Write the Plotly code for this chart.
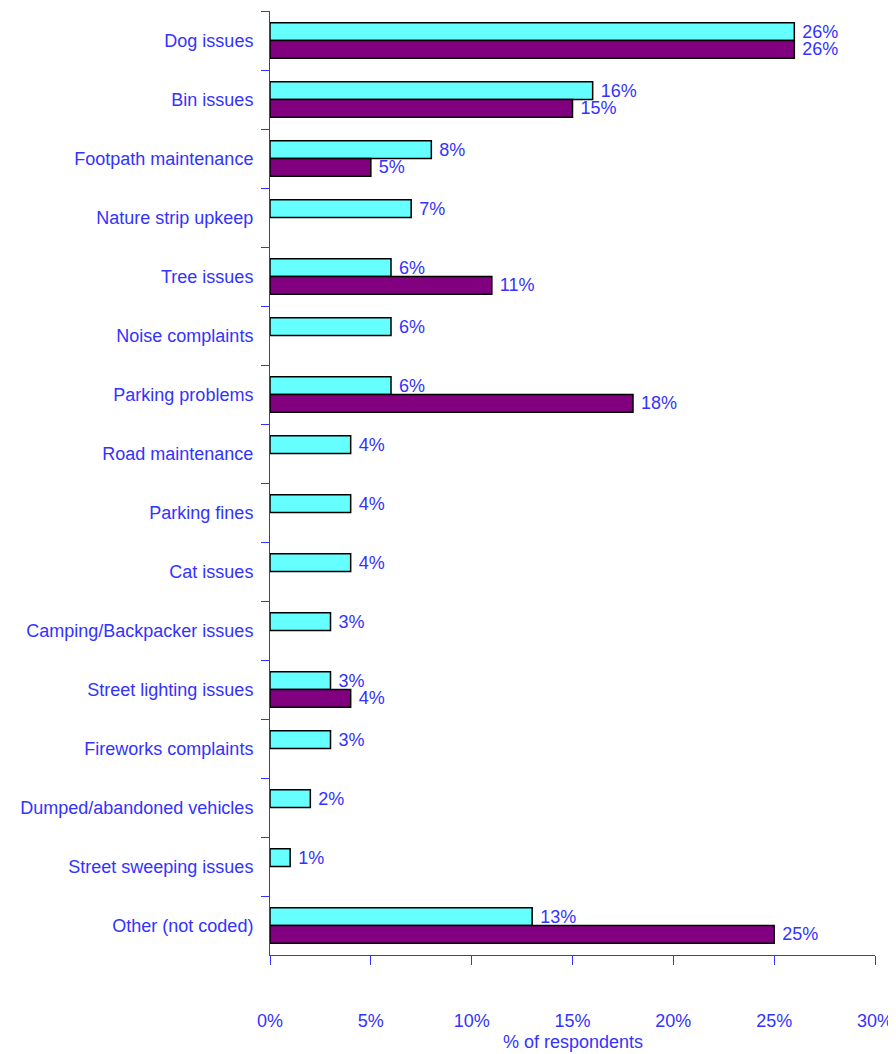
import plotly.graph_objects as go

categories = ["Dog issues", "Bin issues", "Footpath maintenance", "Nature strip upkeep",
              "Tree issues", "Noise complaints", "Parking problems", "Road maintenance",
              "Parking fines", "Cat issues", "Camping/Backpacker issues",
              "Street lighting issues", "Fireworks complaints", "Dumped/abandoned vehicles",
              "Street sweeping issues", "Other (not coded)"]
series_a = [26, 16, 8, 7, 6, 6, 6, 4, 4, 4, 3, 3, 3, 2, 1, 13]
series_b = [26, 15, 5, None, 11, None, 18, None, None, None, None, 4, None, None, None, 25]
x_ticks = [0, 5, 10, 15, 20, 25, 30]

FONT = "Liberation Sans Narrow, Arial Narrow, Liberation Sans, Arial, sans-serif"
BLUE = "#3333FF"

def labels(vals):
    return ["" if v is None else f" {v}%" for v in vals]

fig = go.Figure()
fig.add_trace(go.Bar(y=categories, x=series_a, orientation="h", name="Series A",
                     marker=dict(color="#66FFFF", line=dict(color="black", width=1.5)),
                     text=labels(series_a), textposition="outside", cliponaxis=False,
                     constraintext="none",
                     textfont=dict(family=FONT, size=18, color=BLUE)))
fig.add_trace(go.Bar(y=categories, x=series_b, orientation="h", name="Series B",
                     marker=dict(color="#800080", line=dict(color="black", width=1.5)),
                     text=labels(series_b), textposition="outside", cliponaxis=False,
                     constraintext="none",
                     textfont=dict(family=FONT, size=18, color=BLUE)))

fig.update_layout(
    width=888, height=1046,
    barmode="group", bargap=0.4, bargroupgap=0,
    showlegend=False,
    plot_bgcolor="white", paper_bgcolor="white",
    margin=dict(l=262, r=21, t=3, b=99),
    font=dict(family=FONT, size=18, color=BLUE),
    xaxis=dict(range=[0, 30], tickvals=x_ticks, ticktext=[f"{v}%" for v in x_ticks],
               ticks="outside", ticklen=9, tickcolor=BLUE, showline=True, linecolor=BLUE,
               linewidth=1, showgrid=False, zeroline=False, ticklabelstandoff=40,
               automargin=False),
    yaxis=dict(autorange="reversed", ticks="outside", tickson="boundaries", ticklen=8,
               tickcolor=BLUE, showline=True, linecolor=BLUE, linewidth=1,
               showgrid=False, ticklabelstandoff=12, automargin=False),
    annotations=[dict(text="% of respondents", xref="paper", yref="paper", x=0.5, y=0,
                      yshift=-87, showarrow=False, yanchor="middle",
                      font=dict(family=FONT, size=18, color=BLUE))],
)

fig.write_html("out.html")
